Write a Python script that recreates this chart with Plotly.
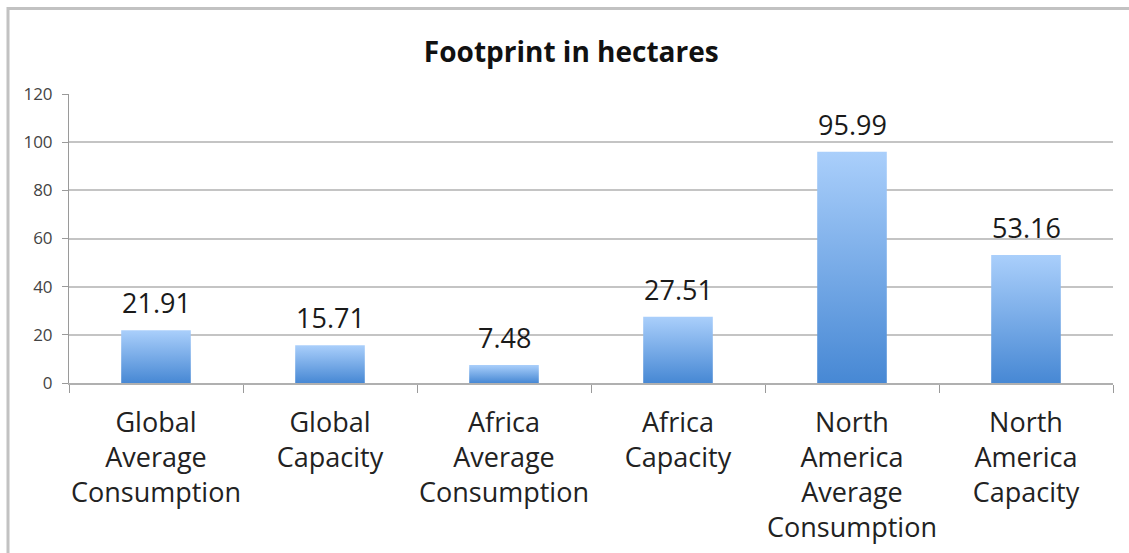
import plotly.graph_objects as go

# Ecological footprint figures (hectares)
categories = [
    "Global<br>Average<br>Consumption",
    "Global<br>Capacity",
    "Africa<br>Average<br>Consumption",
    "Africa<br>Capacity",
    "North<br>America<br>Average<br>Consumption",
    "North<br>America<br>Capacity",
]
values = [21.91, 15.71, 7.48, 27.51, 95.99, 53.16]
value_labels = ["21.91", "15.71", "7.48", "27.51", "95.99", "53.16"]
y_ticks = [0, 20, 40, 60, 80, 100, 120]

BAR_WIDTH = 0.40
LIGHT = "#aacffb"
DARK = "#4788d4"
FONT = "Open Sans"

positions = list(range(len(categories)))

fig = go.Figure()

# Each bar is a filled rectangle with a vertical light-to-dark gradient
for pos, val in zip(positions, values):
    half = BAR_WIDTH / 2
    fig.add_trace(go.Scatter(
        x=[pos - half, pos + half, pos + half, pos - half, pos - half],
        y=[0, 0, val, val, 0],
        mode="lines",
        line=dict(width=0, color=DARK),
        fill="toself",
        fillgradient=dict(type="vertical",
                          colorscale=[[0, DARK], [1, LIGHT]]),
        hoverinfo="skip",
        showlegend=False,
    ))

# Invisible trace on the secondary axis so tick marks at category boundaries render
fig.add_trace(go.Scatter(x=[-0.5, len(categories) - 0.5], y=[0, 0],
                         xaxis="x2", mode="markers",
                         marker=dict(opacity=0), showlegend=False,
                         hoverinfo="skip"))

# Value labels above bars
annotations = [
    dict(x=pos, y=val, xref="x", yref="y", text=label,
         showarrow=False, xanchor="center", yanchor="bottom", yshift=7,
         font=dict(family=FONT, size=27, color="#1a1a1a"))
    for pos, val, label in zip(positions, values, value_labels)
]

fig.update_layout(
    width=1129,
    height=553,
    margin=dict(l=69, r=16, t=94, b=170, autoexpand=False),
    paper_bgcolor="white",
    plot_bgcolor="white",
    title=dict(text="<b>Footprint in hectares</b>",
               x=0.506, xanchor="center", y=0.905, yanchor="middle",
               font=dict(family=FONT, size=28, color="#111111")),
    annotations=annotations,
    xaxis=dict(
        range=[-0.5, len(categories) - 0.5],
        tickmode="array",
        tickvals=positions,
        ticktext=categories,
        ticks="",
        showgrid=False,
        zeroline=False,
        showline=False,
        automargin=False,
        tickfont=dict(family=FONT, size=27, color="#222222"),
        ticklabelstandoff=21,
    ),
    xaxis2=dict(
        overlaying="x",
        side="bottom",
        range=[-0.5, len(categories) - 0.5],
        tickmode="array",
        tickvals=[p - 0.5 for p in positions] + [len(categories) - 0.5],
        ticktext=[""] * (len(categories) + 1),
        ticks="outside",
        ticklen=8,
        tickwidth=1,
        tickcolor="#9a9a9a",
        showgrid=False,
        zeroline=False,
        showline=True,
        automargin=False,
        linecolor="#b0b0b0",
        linewidth=2,
    ),
    yaxis=dict(
        range=[0, 120],
        tickmode="array",
        tickvals=y_ticks,
        ticks="outside",
        ticklen=6,
        tickcolor="#9a9a9a",
        showgrid=True,
        gridcolor="#c4c4c4",
        gridwidth=2,
        zeroline=False,
        showline=True,
        linecolor="#9a9a9a",
        linewidth=1,
        automargin=False,
        ticklabelstandoff=6,
        tickfont=dict(family=FONT, size=17, color="#444444"),
    ),
    shapes=[
        # Outer chart frame
        dict(type="rect", xref="paper", yref="paper",
             x0=(8 - 69) / 1044, x1=1.2, y0=-1.0, y1=(383 - 8.5) / 289,
             line=dict(color="#c2c2c2", width=3), layer="below"),
    ],
)

fig.write_html("out.html")
